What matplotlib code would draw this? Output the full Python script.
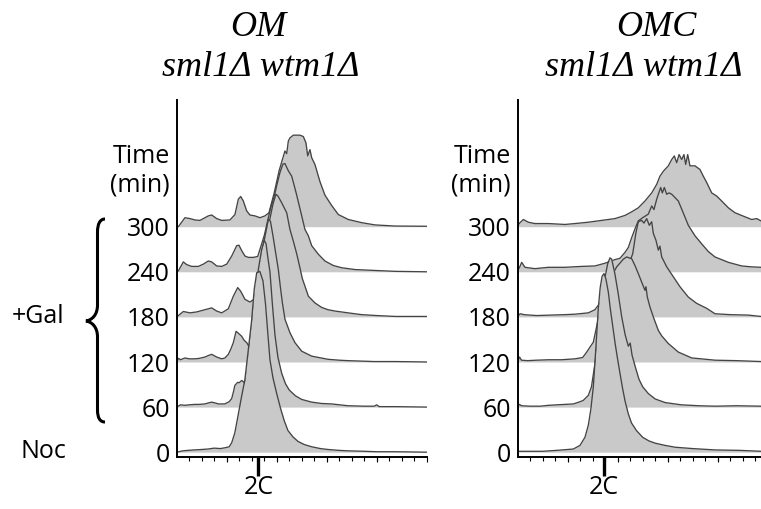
import numpy as np
import matplotlib

matplotlib.use("Agg")
import matplotlib.pyplot as plt
from matplotlib.path import Path
from matplotlib.patches import PathPatch
from matplotlib.transforms import Affine2D

# time points (min), bottom row first
times = ["0", "60", "120", "180", "240", "300"]

# ---- OM sml1Δ wtm1Δ : DNA content histograms (channel units, height in row units)
om_0_x = [0, 5, 9, 14, 20, 25, 30, 35, 39, 42, 44, 46.5, 49, 52, 54.5, 57, 60, 62, 64, 66.5,
          69, 71, 73, 74.6, 77, 80, 83, 86, 89, 93, 97, 102, 108, 115, 121, 130, 137, 150, 160, 175, 200]
om_0_y = [0, 0.03, 0.04, 0.05, 0.06, 0.07, 0.09, 0.08, 0.10, 0.12, 0.21, 0.43, 0.80, 1.25, 1.60, 2.20, 2.94, 3.61, 3.98, 4.01,
          3.80, 3.30, 2.60, 2.05, 1.65, 1.30, 0.98, 0.70, 0.48, 0.34, 0.24, 0.17, 0.12, 0.08, 0.06, 0.04, 0.03, 0.02, 0.01, 0.01, 0.0]

om_60_x = [0, 3, 6.5, 10, 14.5, 18, 22.5, 25, 28, 31, 33.5, 38.5, 42, 44, 45.5, 46.5, 48.8, 50, 52, 53.5,
           54.6, 57, 61, 65.3, 68, 70, 71.5, 73, 74.6, 76.5, 78.6, 81, 84, 87, 90, 95, 100, 108, 116, 124,
           137, 150, 158, 160, 162, 175, 200]
om_60_y = [0, 0.05, 0.04, 0.05, 0.06, 0.06, 0.07, 0.09, 0.11, 0.09, 0.07, 0.07, 0.12, 0.19, 0.35, 0.48, 0.55, 0.54, 0.59, 0.56,
           0.52, 0.90, 2.00, 3.05, 3.50, 3.70, 3.62, 3.30, 3.00, 2.30, 1.60, 1.10, 0.75, 0.52, 0.38, 0.25, 0.17, 0.11, 0.08, 0.07,
           0.03, 0.02, 0.02, 0.05, 0.01, 0.01, 0.0]

om_120_x = [0, 1.5, 3, 6.6, 10, 14.6, 18, 22.6, 25, 28, 32, 36, 38.6, 41.3, 43.5, 45.3, 47.5, 49.3, 52, 54,
            56, 57.9, 62, 66, 70, 73.3, 75, 77, 79, 81.3, 83, 84.5, 86.6, 90.6, 94.6, 100, 108, 121, 130, 137,
            158, 175, 200]
om_120_y = [0.02, 0.08, 0.05, 0.09, 0.07, 0.07, 0.08, 0.11, 0.14, 0.17, 0.11, 0.07, 0.09, 0.17, 0.30, 0.43, 0.68, 0.64, 0.57, 0.48,
            0.43, 0.34, 1.00, 1.90, 2.70, 3.16, 3.12, 2.80, 2.45, 2.05, 1.65, 1.32, 0.95, 0.65, 0.43, 0.24, 0.13, 0.06, 0.04, 0.03,
            0.01, 0.01, 0.0]

om_180_x = [0, 5.3, 10.6, 16, 21.3, 28, 32, 36, 41.3, 45.3, 48.8, 51.2, 54.6, 58.6, 61.8, 66, 70, 74, 77, 79.4,
            81, 84, 88, 90.6, 93.3, 96, 98.5, 100.5, 103, 105.3, 110.6, 116, 121, 126.6, 137, 148, 160, 175, 200]
om_180_y = [0, 0.12, 0.09, 0.11, 0.15, 0.20, 0.13, 0.09, 0.18, 0.46, 0.65, 0.57, 0.39, 0.33, 0.39, 0.90, 1.50, 2.10, 2.50, 2.72,
            2.68, 2.53, 2.31, 1.94, 1.68, 1.40, 1.10, 0.85, 0.65, 0.46, 0.31, 0.21, 0.16, 0.13, 0.09, 0.05, 0.03, 0.01, 0.01]

om_240_x = [0, 1.3, 5.3, 8, 12, 17.3, 21.3, 25.3, 28, 32, 36, 40, 44, 48, 49.8, 52, 54.6, 57.3, 61.3, 64.8,
            70, 75, 78.6, 80, 82.6, 85, 86.6, 89.3, 92, 94.6, 96, 99.4, 102.6, 105.3, 108, 113.3, 118.6, 125.3, 132, 142.6,
            158.6, 175, 200]
om_240_y = [0, 0.02, 0.22, 0.16, 0.12, 0.12, 0.17, 0.24, 0.22, 0.13, 0.12, 0.17, 0.35, 0.58, 0.59, 0.47, 0.35, 0.32, 0.32, 0.34,
            0.80, 1.40, 1.74, 1.91, 2.20, 2.39, 2.40, 2.24, 2.12, 1.85, 1.70, 1.31, 0.94, 0.80, 0.58, 0.39, 0.24, 0.14, 0.09, 0.05,
            0.03, 0.01, 0.0]

om_300_x = [0, 1.3, 6.6, 10.6, 14.6, 18.6, 21.3, 25.3, 28, 32, 36, 42.6, 46.6, 49.3, 51.2, 53.3, 56, 58.6, 62.6, 66.6,
            70.6, 73.8, 78, 82, 86.6, 88, 89.3, 90.6, 93.3, 96, 98.6, 101.3, 103.4, 104.8, 106.6, 108, 110.6, 114.6, 118.6, 124,
            129.3, 137.3, 148, 158.6, 174.6, 200]
om_300_y = [0, 0, 0.20, 0.18, 0.15, 0.14, 0.18, 0.24, 0.26, 0.18, 0.14, 0.15, 0.27, 0.61, 0.67, 0.57, 0.35, 0.26, 0.24, 0.20,
            0.24, 0.31, 0.75, 1.25, 1.68, 1.62, 1.90, 1.97, 2.03, 2.03, 2.03, 2.00, 1.86, 1.57, 1.71, 1.53, 1.38, 1.00, 0.70, 0.47,
            0.27, 0.16, 0.09, 0.04, 0.015, 0.01]

# ---- OMC sml1Δ wtm1Δ
omc_0_x = [0, 20, 31, 40, 44.5, 49.8, 53.8, 56.5, 58.5, 60.5, 62.5, 64.5, 66, 67.5, 69, 70.5, 72.5, 74, 76, 78,
           80, 82, 84, 86, 88.5, 91, 95, 100, 105, 110, 118, 126, 140, 158, 178, 194.6]
omc_0_y = [0.02, 0.02, 0.04, 0.06, 0.07, 0.15, 0.33, 0.60, 0.95, 1.45, 2.30, 3.20, 3.65, 3.90, 3.96, 3.85, 3.55, 3.20, 2.80, 2.40,
           2.05, 1.72, 1.40, 1.12, 0.85, 0.65, 0.48, 0.33, 0.25, 0.20, 0.15, 0.11, 0.08, 0.05, 0.04, 0.02]

omc_60_x = [0, 1.5, 3, 10, 17.8, 25, 31.1, 38, 44.5, 50, 52.5, 56.5, 59, 62, 65, 68, 70, 72, 73.8, 75.2,
            77.8, 80.5, 83.2, 86, 88.5, 90, 91.5, 94, 97, 100, 104.5, 110, 118, 131, 145, 158, 175, 194.6]
omc_60_y = [0.02, 0.06, 0.03, 0.02, 0.02, 0.04, 0.05, 0.06, 0.07, 0.12, 0.15, 0.26, 0.45, 1.00, 1.65, 2.40, 2.90, 3.18, 3.31, 3.28,
            2.95, 2.50, 2.00, 1.60, 1.35, 1.42, 1.15, 0.90, 0.62, 0.45, 0.30, 0.18, 0.10, 0.05, 0.03, 0.02, 0.03, 0.02]

omc_120_x = [0, 1.5, 3, 8, 15, 25, 35, 45.8, 52, 55.2, 57.8, 60.5, 64, 70, 76, 79.2, 82, 84.5, 87.2, 89,
             91.2, 93.8, 96.5, 99.2, 101.8, 102.6, 103.7, 105.8, 108.5, 112.5, 115.2, 120.5, 128.5, 139.2, 158, 175, 194.6]
omc_120_y = [0.02, 0.11, 0.04, 0.03, 0.04, 0.05, 0.05, 0.07, 0.10, 0.22, 0.33, 0.44, 0.90, 1.50, 1.95, 2.11, 2.20, 2.28, 2.33, 2.31,
             2.29, 2.14, 1.96, 1.77, 1.59, 1.67, 1.44, 1.22, 1.00, 0.70, 0.58, 0.41, 0.22, 0.09, 0.04, 0.03, 0.01]

omc_180_x = [0, 2, 5, 15, 26, 37.8, 45.8, 56.5, 61.8, 64.5, 70, 80, 88, 92, 94.5, 96.5, 99.2, 101, 103.2, 105.3,
             107.2, 108.5, 110.6, 112.5, 113.8, 115.2, 119.2, 124.5, 129.8, 136.5, 143.2, 151.2, 157.8, 170, 184.5, 194.6]
omc_180_y = [0.02, 0.07, 0.05, 0.03, 0.04, 0.05, 0.06, 0.09, 0.16, 0.26, 0.45, 0.80, 1.10, 1.40, 1.85, 2.11, 2.14, 2.08, 2.18, 2.03,
             2.11, 1.85, 1.70, 1.48, 1.57, 1.33, 1.11, 0.89, 0.67, 0.44, 0.30, 0.19, 0.07, 0.05, 0.04, 0.01]

omc_240_x = [0, 1.5, 3.2, 5.8, 13.8, 24.5, 37.8, 51.2, 61.8, 69.8, 77.8, 81.8, 85.8, 88.5, 91.2, 93.8, 96.5, 100, 104.5, 107.2,
             109, 111.2, 112.5, 114.4, 115.7, 117.3, 119.2, 121.1, 123.2, 128.5, 131.2, 136.5, 141.8, 147.2, 152.5, 157.8, 168.5, 179.2, 187, 194.6]
omc_240_y = [0.03, 0.10, 0.21, 0.10, 0.07, 0.10, 0.10, 0.12, 0.13, 0.19, 0.27, 0.30, 0.43, 0.54, 0.76, 0.95, 1.13, 1.20, 1.28, 1.46,
             1.38, 1.61, 1.72, 1.87, 1.75, 1.87, 1.72, 1.75, 1.72, 1.57, 1.39, 1.03, 0.80, 0.62, 0.45, 0.33, 0.21, 0.13, 0.11, 0.10]

omc_300_x = [0, 1.5, 4.5, 8.5, 13.8, 24.5, 37.8, 45.8, 56.5, 67.2, 77.8, 85.8, 91.2, 96.5, 101.8, 107.2, 111.2, 113.8, 116.5, 120.5,
             123.2, 125.3, 127.2, 129.1, 131.2, 133, 134.4, 136, 137.8, 141.8, 145.8, 148.5, 151.2, 155.2, 159.2, 163.2, 168.5, 173.8, 181.8, 187.2,
             191.2, 194.6]
omc_300_y = [0.02, 0.08, 0.16, 0.10, 0.07, 0.07, 0.05, 0.07, 0.10, 0.14, 0.18, 0.25, 0.33, 0.42, 0.57, 0.75, 0.94, 1.12, 1.23, 1.35,
             1.49, 1.57, 1.42, 1.60, 1.49, 1.60, 1.38, 1.60, 1.35, 1.35, 1.27, 1.12, 0.98, 0.75, 0.68, 0.57, 0.42, 0.31, 0.22, 0.16,
             0.18, 0.13]

om_curves = [(om_0_x, om_0_y), (om_60_x, om_60_y), (om_120_x, om_120_y),
             (om_180_x, om_180_y), (om_240_x, om_240_y), (om_300_x, om_300_y)]
omc_curves = [(omc_0_x, omc_0_y), (omc_60_x, omc_60_y), (omc_120_x, omc_120_y),
              (omc_180_x, omc_180_y), (omc_240_x, omc_240_y), (omc_300_x, omc_300_y)]

FILL = "#c9c9c9"
LINE = "#444444"
SANS = "Open Sans"
SERIF = "Liberation Serif"
FS = 18
W, H = 761, 509


def panel(ax, curves, xmax, pos_2c):
    n = len(curves)
    for i, (xs, ys) in enumerate(curves):
        xs = np.asarray(xs, float)
        top = i + np.asarray(ys, float)
        z = 10 + 2 * (n - i)  # lower rows sit in front
        ax.fill_between(xs, i, top, color=FILL, lw=0, zorder=z)
        ax.plot(xs, top, color=LINE, lw=0.95, zorder=z + 1, solid_joinstyle="round")

    ax.set_xlim(0, xmax)
    ax.set_ylim(-0.1, 7.81)
    for s in ("top", "right"):
        ax.spines[s].set_visible(False)
    for s in ("left", "bottom"):
        ax.spines[s].set_linewidth(1.4)
        ax.spines[s].set_zorder(30)

    ax.set_yticks(range(n))
    ax.set_yticklabels(times, fontsize=FS, family=SANS)
    ax.tick_params(axis="y", length=0, pad=5)

    ax.set_xticks([pos_2c])
    ax.set_xticklabels(["2C"], fontsize=FS, family=SANS)
    ax.set_xticks(np.arange(10, xmax, 10), minor=True)
    ax.tick_params(axis="x", which="major", length=13.5, width=2.4, pad=0)
    ax.tick_params(axis="x", which="minor", length=2.6, width=0.8)

    sec = ax.secondary_xaxis("bottom")
    sec.set_xticks(np.arange(40, xmax + 1, 40))
    sec.tick_params(length=3.8, width=0.8, labelbottom=False)
    sec.spines["bottom"].set_visible(False)

    for label, yv in (("Time", 6.56), ("(min)", 5.93)):
        ax.annotate(label, xy=(0, yv), xycoords=("axes fraction", "data"),
                    xytext=(-5, 0), textcoords="offset points",
                    ha="right", va="center", fontsize=FS, family=SANS)


fig = plt.figure(figsize=(W / 100, H / 100), dpi=100, facecolor="white")
ax1 = fig.add_axes([176.7 / W, 1 - 456.7 / H, 250 / W, 356.7 / H])
ax2 = fig.add_axes([517.7 / W, 1 - 456.7 / H, (W - 517.7) / W, 356.7 / H])
panel(ax1, om_curves, 200, 65.3)
panel(ax2, omc_curves, (W - 517.7) / 1.25, 69)

# titles
px = Affine2D().scale(1 / W, -1 / H).translate(0, 1) + fig.transFigure
for x, y, s in ((258, 28, "OM"), (261, 68, "sml1Δ wtm1Δ"),
                (656, 28, "OMC"), (644, 68, "sml1Δ wtm1Δ")):
    fig.text(x, y, s, transform=px, ha="center", va="center",
             fontsize=26, family=SERIF, style="italic")

fig.text(38, 317, "+Gal", transform=px, ha="center", va="center", fontsize=FS, family=SANS)
fig.text(43, 452, "Noc", transform=px, ha="center", va="center", fontsize=FS, family=SANS)

# curly brace for the +Gal time points
verts = [(105, 219), (100, 219), (97.5, 224), (97.5, 232),
         (97.5, 305),
         (97.5, 315), (92, 320), (86, 321),
         (92, 322), (97.5, 327), (97.5, 337),
         (97.5, 410),
         (97.5, 418), (100, 422), (105, 422)]
codes = [Path.MOVETO, Path.CURVE4, Path.CURVE4, Path.CURVE4,
         Path.LINETO,
         Path.CURVE4, Path.CURVE4, Path.CURVE4,
         Path.CURVE4, Path.CURVE4, Path.CURVE4,
         Path.LINETO,
         Path.CURVE4, Path.CURVE4, Path.CURVE4]
fig.add_artist(PathPatch(Path(verts, codes), transform=px, fill=False, lw=2.2,
                         edgecolor="black", capstyle="butt"))

fig.savefig("out.png", dpi=100, facecolor="white")
